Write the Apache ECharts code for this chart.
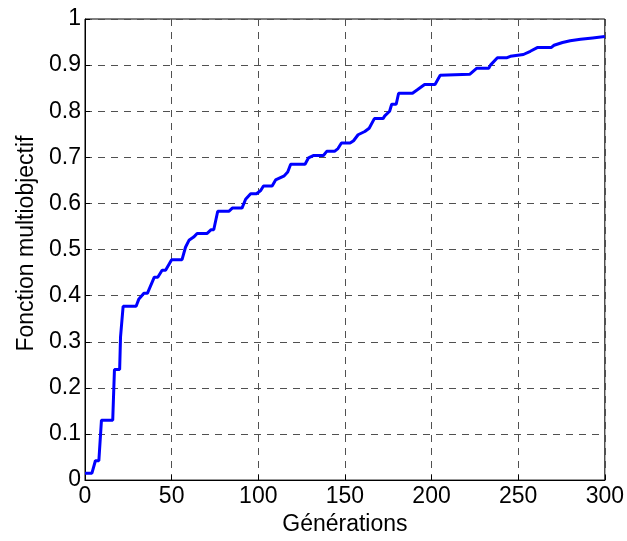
<!DOCTYPE html>
<html>
<head>
<meta charset="utf-8">
<script src="https://cdn.jsdelivr.net/npm/echarts@6/dist/echarts.min.js"></script>
<style>html,body{margin:0;padding:0;background:#fff;}#c{width:627px;height:541px;}</style>
</head>
<body>
<div id="c"></div>
<script>
const generations = [0,4,6,8,9.5,16,17,20,20.5,21.2,22,29.5,31,32,34,36,40,42,44.5,46.5,50,56,58,60,62.7,64.7,70.5,72.8,74.3,76.6,83,85,90.6,92.7,95.6,99,101.4,103,108,110,115,117,118.7,127,129,132,137.6,139.5,144,146,148,153,155,157.6,161.5,164,167,172,173,175.8,177,179.6,181,189,192,196,202,205,222,226,233,234,238,243.6,245.5,253,257,261,269,270.7,275.6,280,286,293,300];
const fitness = [0.015,0.015,0.042,0.042,0.13,0.13,0.24,0.24,0.31,0.31,0.377,0.377,0.392,0.392,0.405,0.405,0.44,0.44,0.455,0.455,0.478,0.478,0.505,0.52,0.527,0.535,0.535,0.543,0.543,0.583,0.583,0.59,0.59,0.609,0.621,0.621,0.628,0.638,0.638,0.651,0.66,0.668,0.685,0.685,0.699,0.704,0.704,0.713,0.713,0.719,0.731,0.731,0.736,0.749,0.756,0.763,0.784,0.784,0.79,0.8,0.815,0.815,0.839,0.839,0.847,0.858,0.858,0.878,0.88,0.893,0.893,0.9,0.916,0.916,0.919,0.923,0.93,0.938,0.938,0.943,0.949,0.953,0.956,0.959,0.962];
const xTicks = [0,50,100,150,200,250,300];
const yTicks = [0,0.1,0.2,0.3,0.4,0.5,0.6,0.7,0.8,0.9,1];
const xLabel = 'Générations';
const yLabel = 'Fonction multiobjectif';

const chart = echarts.init(document.getElementById('c'));
const font = 'Liberation Sans, Arial, sans-serif';
const fs = 23;
chart.setOption({
  animation: false,
  backgroundColor: '#fff',
  grid: {left: 85, right: 22, top: 19, bottom: 60, show: true, borderColor: '#000', borderWidth: 1, backgroundColor: 'transparent'},
  xAxis: {
    type: 'value', min: 0, max: 300, interval: 50,
    name: xLabel, nameLocation: 'middle', nameGap: 31,
    nameTextStyle: {fontFamily: font, fontSize: fs, color: '#000'},
    axisLine: {show: true, lineStyle: {color: '#000', width: 1}},
    axisTick: {show: true, inside: true, length: 5, lineStyle: {color: '#000'}},
    axisLabel: {fontFamily: font, fontSize: fs, color: '#000', margin: 5, formatter: v => xTicks.includes(v) ? String(v) : ''},
    splitLine: {show: true, lineStyle: {color: '#505050', type: [7, 6], width: 1}}
  },
  yAxis: {
    type: 'value', min: 0, max: 1, interval: 0.1,
    name: yLabel, nameLocation: 'middle', nameGap: 47,
    nameTextStyle: {fontFamily: font, fontSize: fs, color: '#000', padding: [0, 0, 0, 12]},
    axisLine: {show: true, lineStyle: {color: '#000', width: 1}},
    axisTick: {show: true, inside: true, length: 5, lineStyle: {color: '#000'}},
    axisLabel: {fontFamily: font, fontSize: fs, color: '#000', margin: 4,
      formatter: v => { const t = yTicks.find(y => Math.abs(y - v) < 1e-9); return t === undefined ? '' : String(t); }},
    splitLine: {show: true, lineStyle: {color: '#505050', type: [7, 6], width: 1}}
  },
  series: [{
    type: 'line',
    data: generations.map((g, i) => [g, fitness[i]]),
    showSymbol: false,
    lineStyle: {color: '#0000ff', width: 3},
    z: 5
  }]
});
</script>
</body>
</html>
